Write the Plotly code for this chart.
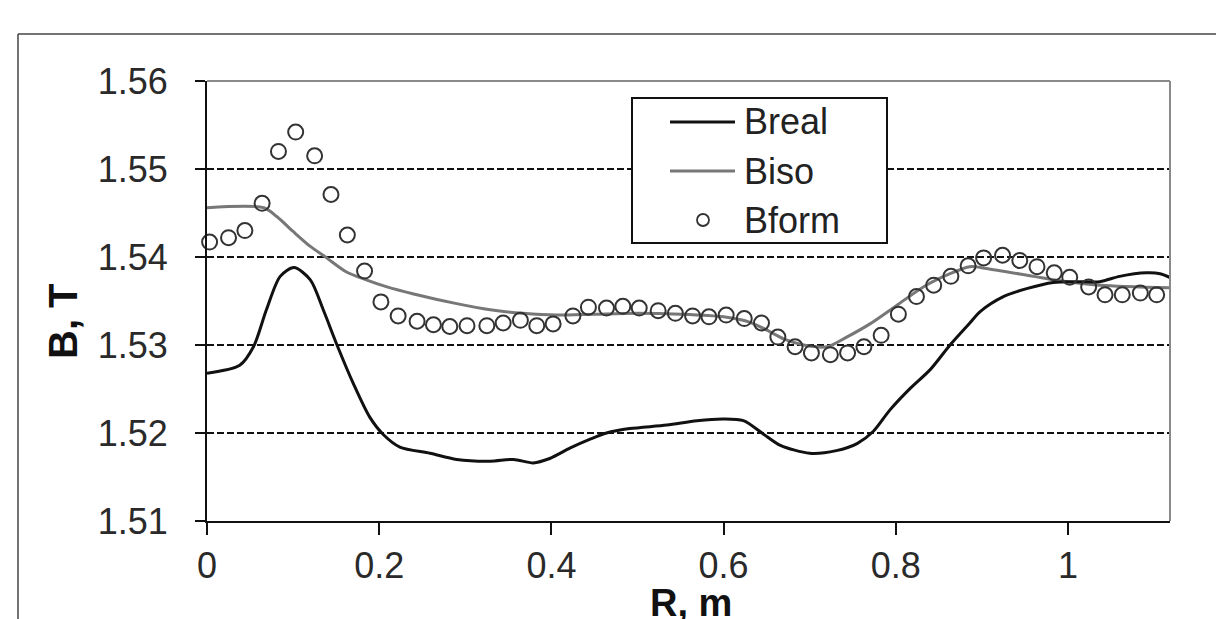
import plotly.graph_objects as go

# ---------------- data ----------------
breal_r = [0.000, 0.038, 0.054, 0.069, 0.085, 0.101, 0.120, 0.135, 0.151, 0.170,
           0.189, 0.205, 0.224, 0.259, 0.290, 0.329, 0.356, 0.379, 0.398, 0.422,
           0.445, 0.464, 0.491, 0.534, 0.569, 0.600, 0.623, 0.646, 0.666, 0.700,
           0.731, 0.755, 0.774, 0.793, 0.817, 0.840, 0.863, 0.886, 0.898, 0.925,
           0.952, 0.983, 1.010, 1.037, 1.060, 1.091, 1.107, 1.120]
breal_b = [1.5268, 1.5277, 1.5298, 1.5340, 1.5378, 1.5388, 1.5374, 1.5340, 1.5300, 1.5256,
           1.5218, 1.5198, 1.5184, 1.5177, 1.5170, 1.5168, 1.5170, 1.5166, 1.5171, 1.5183,
           1.5193, 1.5200, 1.5205, 1.5209, 1.5214, 1.5216, 1.5214, 1.5199, 1.5186, 1.5177,
           1.5180, 1.5188, 1.5202, 1.5226, 1.5251, 1.5272, 1.5300, 1.5325, 1.5338, 1.5355,
           1.5364, 1.5371, 1.5372, 1.5372, 1.5378, 1.5382, 1.5381, 1.5376]

biso_r = [0.000, 0.066, 0.081, 0.100, 0.120, 0.139, 0.162, 0.185, 0.209, 0.240,
          0.290, 0.329, 0.367, 0.406, 0.450, 0.500, 0.550, 0.600, 0.630, 0.654,
          0.672, 0.693, 0.720, 0.743, 0.770, 0.801, 0.832, 0.863, 0.886, 0.905,
          0.960, 0.991, 1.037, 1.120]
biso_b = [1.5456, 1.5456, 1.5446, 1.5429, 1.5412, 1.5399, 1.5383, 1.5374, 1.5366, 1.5358,
          1.5347, 1.5340, 1.5336, 1.5334, 1.5335, 1.5336, 1.5335, 1.5332, 1.5326, 1.5315,
          1.5306, 1.5300, 1.5298, 1.5309, 1.5324, 1.5345, 1.5366, 1.5381, 1.5389, 1.5387,
          1.5378, 1.5373, 1.5368, 1.5365]

bform_r = [0.003, 0.025, 0.044, 0.064, 0.083, 0.103, 0.125, 0.144, 0.163, 0.183,
           0.202, 0.222, 0.244, 0.263, 0.282, 0.302, 0.325, 0.344, 0.364, 0.383,
           0.402, 0.425, 0.443, 0.464, 0.483, 0.502, 0.524, 0.544, 0.564, 0.583,
           0.603, 0.624, 0.644, 0.663, 0.683, 0.702, 0.724, 0.744, 0.763, 0.783,
           0.803, 0.824, 0.844, 0.864, 0.884, 0.902, 0.924, 0.944, 0.964, 0.984,
           1.002, 1.024, 1.043, 1.063, 1.084, 1.103, 1.122]
bform_b = [1.5417, 1.5422, 1.5430, 1.5461, 1.5520, 1.5542, 1.5515, 1.5471, 1.5425, 1.5384,
           1.5349, 1.5333, 1.5327, 1.5323, 1.5321, 1.5322, 1.5322, 1.5325, 1.5328, 1.5322,
           1.5324, 1.5333, 1.5343, 1.5342, 1.5344, 1.5342, 1.5339, 1.5336, 1.5333, 1.5332,
           1.5334, 1.5330, 1.5325, 1.5309, 1.5298, 1.5291, 1.5289, 1.5291, 1.5298, 1.5311,
           1.5335, 1.5355, 1.5368, 1.5378, 1.5390, 1.5399, 1.5402, 1.5396, 1.5389, 1.5382,
           1.5377, 1.5366, 1.5357, 1.5357, 1.5359, 1.5357, 1.5351]

series_names = ["Breal", "Biso", "Bform"]
x_tick_vals = [0, 0.2, 0.4, 0.6, 0.8, 1.0]
x_tick_text = ["0", "0.2", "0.4", "0.6", "0.8", "1"]
y_tick_vals = [1.51, 1.52, 1.53, 1.54, 1.55, 1.56]
y_tick_text = ["1.51", "1.52", "1.53", "1.54", "1.55", "1.56"]
x_title = "R, m"
y_title = "B, T"

# ---------------- styles ----------------
FONT = "Liberation Sans, Arial, sans-serif"
C_REAL = "#111111"
C_ISO = "#777777"
C_FORM = "#333333"

fig = go.Figure()
fig.add_trace(go.Scatter(x=biso_r, y=biso_b, mode="lines", name=series_names[1],
                         line=dict(color=C_ISO, width=3, shape="spline", smoothing=0.8),
                         showlegend=False))
fig.add_trace(go.Scatter(x=breal_r, y=breal_b, mode="lines", name=series_names[0],
                         line=dict(color=C_REAL, width=3, shape="spline", smoothing=0.8),
                         showlegend=False))
fig.add_trace(go.Scatter(x=bform_r, y=bform_b, mode="markers", name=series_names[2],
                         marker=dict(symbol="circle", size=15, color="rgba(0,0,0,0)",
                                     line=dict(color=C_FORM, width=2)),
                         cliponaxis=False, showlegend=False))

W, H = 1216, 619
ML, MR, MT, MB = 207, 46, 81, 98
PW, PH = W - ML - MR, H - MT - MB


def px(x):
    return (x - ML) / PW


def py(y):
    return (H - MB - y) / PH


shapes = [
    # outer frame (cropped at right and bottom in the reference)
    dict(type="line", xref="paper", yref="paper", x0=px(18), x1=px(W), y0=py(34), y1=py(34),
         line=dict(color="#444444", width=1.5), layer="below"),
    dict(type="line", xref="paper", yref="paper", x0=px(18), x1=px(18), y0=py(34), y1=py(H),
         line=dict(color="#444444", width=1.5), layer="below"),
    # top and right plot borders in gray
    dict(type="line", xref="paper", yref="paper", x0=0, x1=1, y0=1, y1=1,
         line=dict(color="#8a8a8a", width=2), layer="above"),
    dict(type="line", xref="paper", yref="paper", x0=1, x1=1, y0=0, y1=1,
         line=dict(color="#8a8a8a", width=2), layer="above"),
    # legend box
    dict(type="rect", xref="paper", yref="paper", x0=px(632), x1=px(887), y0=py(243), y1=py(98),
         line=dict(color="#111111", width=2), fillcolor="white", layer="above"),
    dict(type="line", xref="paper", yref="paper", x0=px(670), x1=px(735), y0=py(122), y1=py(122),
         line=dict(color=C_REAL, width=3), layer="above"),
    dict(type="line", xref="paper", yref="paper", x0=px(670), x1=px(735), y0=py(171), y1=py(171),
         line=dict(color=C_ISO, width=3), layer="above"),
    dict(type="circle", xref="paper", yref="paper", x0=px(697), x1=px(709), y0=py(226), y1=py(214),
         line=dict(color=C_FORM, width=1.8), layer="above"),
]

annotations = [
    dict(text=series_names[0], x=px(742), y=py(121), xref="paper", yref="paper",
         xanchor="left", yanchor="middle", showarrow=False,
         font=dict(family=FONT, size=36, color="#222222")),
    dict(text=series_names[1], x=px(742), y=py(171), xref="paper", yref="paper",
         xanchor="left", yanchor="middle", showarrow=False,
         font=dict(family=FONT, size=36, color="#222222")),
    dict(text=series_names[2], x=px(742), y=py(220), xref="paper", yref="paper",
         xanchor="left", yanchor="middle", showarrow=False,
         font=dict(family=FONT, size=36, color="#222222")),
    dict(text="<b>" + y_title + "</b>", x=px(63), y=py(321), xref="paper", yref="paper",
         xanchor="center", yanchor="middle", textangle=-90, showarrow=False,
         font=dict(family=FONT, size=40, color="#111111")),
    dict(text="<b>" + x_title + "</b>", x=px(691), y=py(580), xref="paper", yref="paper",
         xanchor="center", yanchor="top", showarrow=False,
         font=dict(family=FONT, size=38, color="#111111")),
]

fig.update_layout(
    width=W, height=H,
    margin=dict(l=ML, r=MR, t=MT, b=MB, pad=0),
    paper_bgcolor="white", plot_bgcolor="white",
    showlegend=False,
    shapes=shapes, annotations=annotations,
    font=dict(family=FONT, size=36, color="#2a2a2a"),
)
fig.update_xaxes(
    range=[0, PW / 861.0], tickvals=x_tick_vals, ticktext=x_tick_text,
    showgrid=False, zeroline=False,
    showline=True, linecolor="#111111", linewidth=2,
    ticks="outside", ticklen=12, tickwidth=2, tickcolor="#111111",
    ticklabelstandoff=0,
    tickfont=dict(family=FONT, size=36, color="#2a2a2a"),
)
fig.update_yaxes(
    range=[1.51, 1.56], tickvals=y_tick_vals, ticktext=y_tick_text,
    showgrid=True, gridcolor="#111111", gridwidth=1.5, griddash="7px,3px",
    zeroline=False,
    showline=True, linecolor="#111111", linewidth=2,
    ticks="outside", ticklen=10, tickwidth=2, tickcolor="#111111",
    ticklabelstandoff=20,
    tickfont=dict(family=FONT, size=36, color="#2a2a2a"),
)

fig.write_html("out.html")
